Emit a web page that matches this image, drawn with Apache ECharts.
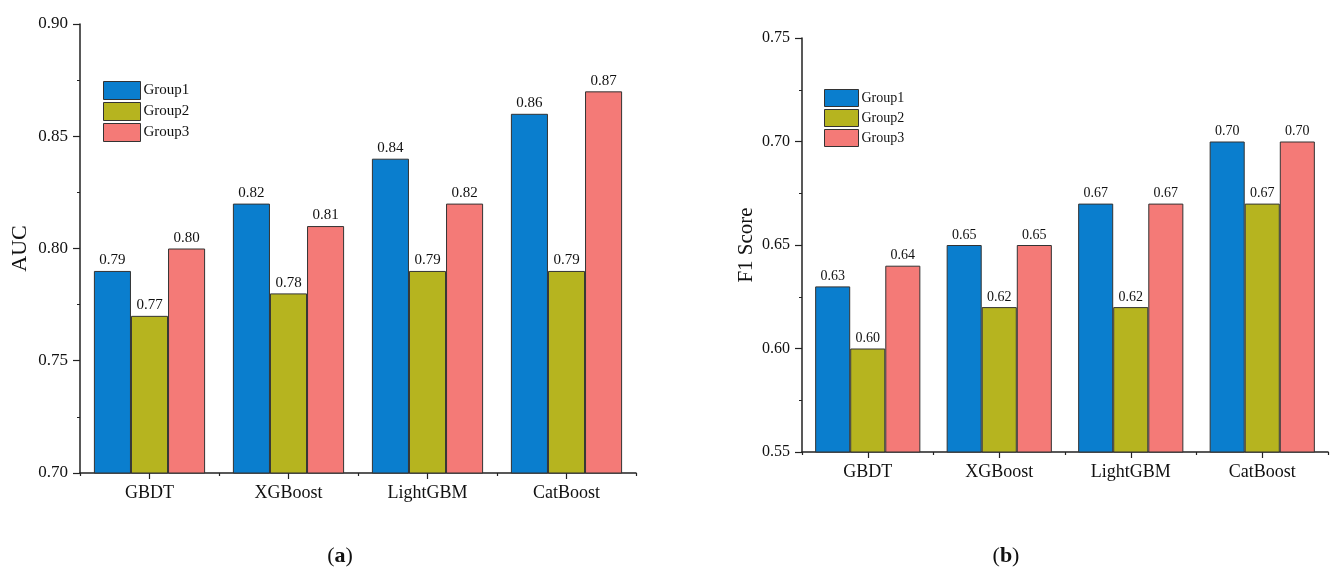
<!DOCTYPE html>
<html><head><meta charset="utf-8">
<script src="https://cdn.jsdelivr.net/npm/echarts@6/dist/echarts.min.js"></script>
<style>html,body{margin:0;padding:0;background:#fff}#c{width:1330px;height:568px}</style>
</head><body><div id="c"></div>
<script>
const categories = ['GBDT', 'XGBoost', 'LightGBM', 'CatBoost'];
const groupNames = ['Group1', 'Group2', 'Group3'];
const aucGroup1 = [0.79, 0.82, 0.84, 0.86];
const aucGroup2 = [0.77, 0.78, 0.79, 0.79];
const aucGroup3 = [0.80, 0.81, 0.82, 0.87];
const f1Group1 = [0.63, 0.65, 0.67, 0.70];
const f1Group2 = [0.60, 0.62, 0.62, 0.67];
const f1Group3 = [0.64, 0.65, 0.67, 0.70];
const aucTicks = { min: 0.70, max: 0.90, interval: 0.05 };
const f1Ticks = { min: 0.55, max: 0.75, interval: 0.05 };

const colors = ['#0A7ECE', '#B6B41F', '#F47A77'];
const FONT = '"Liberation Serif", "DejaVu Serif", serif';

const chart = echarts.init(document.getElementById('c'), null, { renderer: 'canvas' });

function yAxis(gi, t, name, fs, gap, nfs) {
  return {
    type: 'value', gridIndex: gi, min: t.min, max: t.max, interval: t.interval,
    name: name, nameLocation: 'middle', nameGap: gap,
    nameTextStyle: { fontFamily: FONT, fontSize: nfs, color: '#111' },
    axisLine: { show: true, lineStyle: { color: '#222', width: 1.5 } },
    axisTick: { show: true, inside: false, length: 7, lineStyle: { color: '#222', width: 1.2 } },
    minorTick: { show: true, splitNumber: 2, length: 3, lineStyle: { color: '#222', width: 1 } },
    splitLine: { show: false },
    axisLabel: { fontFamily: FONT, fontSize: fs, color: '#111', margin: 12, formatter: v => v.toFixed(2) }
  };
}
function xAxisMain(gi) {
  return {
    type: 'category', gridIndex: gi, data: categories,
    axisLine: { show: true, lineStyle: { color: '#222', width: 1.5 } },
    axisTick: { show: true, alignWithLabel: true, length: 6, lineStyle: { color: '#222', width: 1.2 } },
    axisLabel: { fontFamily: FONT, fontSize: 18, color: '#111', margin: 11 }
  };
}
function xAxisBound(gi) {
  return {
    type: 'category', gridIndex: gi, data: categories, position: 'bottom',
    axisLine: { show: false },
    axisTick: { show: true, alignWithLabel: false, length: 3, lineStyle: { color: '#222', width: 1.2 } },
    axisLabel: { show: false }
  };
}
function barSeries(name, data, idx, gi, fs) {
  return {
    type: 'bar', name: name, data: data, xAxisIndex: gi * 2, yAxisIndex: gi,
    barGap: '0%', barCategoryGap: '20%',
    itemStyle: { color: colors[idx], borderColor: '#333', borderWidth: 1 },
    label: { show: true, position: 'top', distance: 3, fontFamily: FONT, fontSize: fs, color: '#111',
      formatter: p => p.value.toFixed(2) },
    emphasis: { disabled: true }
  };
}

chart.setOption({
  animation: false,
  backgroundColor: '#fff',
  grid: [
    { left: 80, top: 24, width: 556, height: 449, containLabel: false },
    { left: 802, top: 38, width: 526, height: 414, containLabel: false }
  ],
  xAxis: [xAxisMain(0), xAxisBound(0), xAxisMain(1), xAxisBound(1)],
  yAxis: [yAxis(0, aucTicks, 'AUC', 17, 49, 22), yAxis(1, f1Ticks, 'F1 Score', 16, 45, 21)],
  legend: [
    { orient: 'vertical', left: 98, top: 76, itemWidth: 37, itemHeight: 18, itemGap: 2, icon: 'rect',
      itemStyle: { borderWidth: 1, borderColor: '#333' },
      data: groupNames, textStyle: { fontFamily: FONT, fontSize: 15, color: '#111', padding: [0, 0, 0, -2] } },
    { orient: 'vertical', left: 819, top: 84, itemWidth: 34, itemHeight: 17, itemGap: 2, icon: 'rect',
      itemStyle: { borderWidth: 1, borderColor: '#333' },
      data: groupNames, textStyle: { fontFamily: FONT, fontSize: 14, color: '#111', padding: [0, 0, 0, -2] } }
  ],
  title: [
    { text: '({b|a})', left: 335, top: 540, textAlign: 'center',
      textStyle: { fontFamily: FONT, fontSize: 22, fontWeight: 'normal', color: '#111',
        rich: { b: { fontFamily: FONT, fontSize: 22, fontWeight: 'bold', color: '#111' } } } },
    { text: '({b|b})', left: 1001, top: 540, textAlign: 'center',
      textStyle: { fontFamily: FONT, fontSize: 22, fontWeight: 'normal', color: '#111',
        rich: { b: { fontFamily: FONT, fontSize: 22, fontWeight: 'bold', color: '#111' } } } }
  ],
  series: [
    barSeries(groupNames[0], aucGroup1, 0, 0, 15),
    barSeries(groupNames[1], aucGroup2, 1, 0, 15),
    barSeries(groupNames[2], aucGroup3, 2, 0, 15),
    barSeries(groupNames[0], f1Group1, 0, 1, 14),
    barSeries(groupNames[1], f1Group2, 1, 1, 14),
    barSeries(groupNames[2], f1Group3, 2, 1, 14)
  ]
});
</script>
</body></html>
